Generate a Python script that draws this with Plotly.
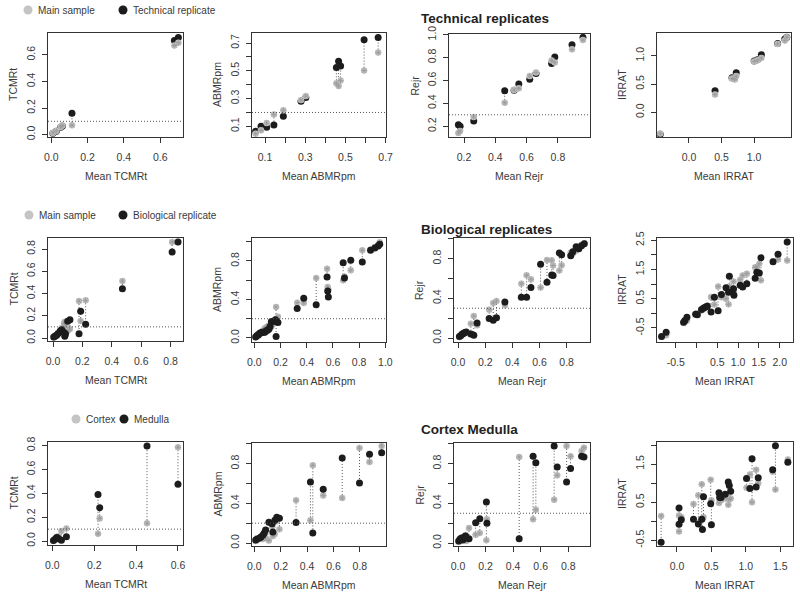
import plotly.graph_objects as go

W, H = 800, 596

# ---------------- DATA ----------------
# Row 1: Technical replicates (grey = main sample, black = technical replicate)
tech_tcmr_mean = [0.009, 0.028, 0.052, 0.061, 0.114, 0.678, 0.700]
tech_tcmr_main = [0.013, 0.028, 0.058, 0.068, 0.070, 0.670, 0.690]
tech_tcmr_rep = [0.010, 0.025, 0.055, 0.064, 0.161, 0.708, 0.731]

tech_abmr_mean = [0.053, 0.080, 0.108, 0.144, 0.191, 0.279, 0.303, 0.455, 0.466, 0.476, 0.593, 0.663]
tech_abmr_main = [0.047, 0.071, 0.124, 0.185, 0.216, 0.289, 0.318, 0.410, 0.390, 0.430, 0.502, 0.632]
tech_abmr_rep = [0.064, 0.100, 0.093, 0.110, 0.173, 0.280, 0.308, 0.525, 0.570, 0.535, 0.724, 0.741]

tech_rej_mean = [0.164, 0.175, 0.262, 0.46, 0.52, 0.55, 0.62, 0.66, 0.76, 0.78, 0.89, 0.96]
tech_rej_main = [0.141, 0.159, 0.280, 0.405, 0.517, 0.531, 0.640, 0.670, 0.775, 0.757, 0.872, 0.954]
tech_rej_rep = [0.212, 0.200, 0.245, 0.511, 0.515, 0.569, 0.610, 0.660, 0.748, 0.804, 0.913, 0.977]

tech_irr_mean = [-0.44, 0.40, 0.66, 0.70, 0.725, 1.00, 1.05, 1.11, 1.36, 1.47, 1.50]
tech_irr_main = [-0.38, 0.315, 0.60, 0.58, 0.64, 0.90, 0.92, 0.96, 1.21, 1.27, 1.33]
tech_irr_rep = [-0.39, 0.38, 0.61, 0.60, 0.70, 0.91, 0.93, 1.02, 1.22, 1.30, 1.33]

# Row 2: Biological replicates (grey = main sample, black = biological replicate)
bio_tcmr_mean = [0.005, 0.015, 0.025, 0.035, 0.05, 0.06, 0.075, 0.08, 0.085, 0.10, 0.115, 0.177, 0.188, 0.222, 0.472, 0.81, 0.85]
bio_tcmr_main = [0.005, 0.012, 0.03, 0.045, 0.06, 0.09, 0.13, 0.145, 0.11, 0.065, 0.08, 0.333, 0.153, 0.339, 0.512, 0.863, 0.863]
bio_tcmr_rep = [0.008, 0.018, 0.025, 0.04, 0.065, 0.075, 0.05, 0.015, 0.035, 0.15, 0.165, 0.039, 0.24, 0.123, 0.443, 0.773, 0.863]

bio_abmr_mean = [0.01, 0.02, 0.03, 0.04, 0.05, 0.06, 0.07, 0.08, 0.09, 0.10, 0.11, 0.12, 0.13, 0.15, 0.16, 0.166, 0.17, 0.18,
                 0.327, 0.377, 0.472, 0.555, 0.56, 0.565, 0.678, 0.688, 0.736, 0.824, 0.887, 0.92, 0.945, 0.957]
bio_abmr_main = [0.015, 0.02, 0.04, 0.035, 0.06, 0.07, 0.08, 0.10, 0.11, 0.12, 0.13, 0.10, 0.12, 0.15, 0.17, 0.322, 0.20, 0.22,
                 0.367, 0.364, 0.623, 0.72, 0.53, 0.50, 0.60, 0.64, 0.703, 0.911, 0.92, 0.945, 0.965, 0.994]
bio_abmr_rep = [0.01, 0.025, 0.03, 0.05, 0.055, 0.06, 0.06, 0.06, 0.075, 0.08, 0.09, 0.12, 0.17, 0.17, 0.19, 0.014, 0.17, 0.16,
                0.305, 0.412, 0.346, 0.634, 0.488, 0.426, 0.783, 0.623, 0.807, 0.79, 0.911, 0.935, 0.956, 0.973]

bio_rej_mean = [0.01, 0.02, 0.03, 0.04, 0.05, 0.06, 0.094, 0.116, 0.14, 0.229, 0.259, 0.283, 0.345, 0.466, 0.505, 0.537,
                0.608, 0.655, 0.69, 0.70, 0.746, 0.763, 0.83, 0.845, 0.87, 0.89, 0.91, 0.93]
bio_rej_main = [0.01, 0.02, 0.03, 0.05, 0.055, 0.06, 0.145, 0.222, 0.128, 0.286, 0.353, 0.373, 0.33, 0.548, 0.632, 0.592,
                0.508, 0.787, 0.783, 0.73, 0.68, 0.733, 0.86, 0.85, 0.88, 0.92, 0.94, 0.955]
bio_rej_rep = [0.015, 0.025, 0.04, 0.045, 0.055, 0.06, 0.04, 0.027, 0.151, 0.198, 0.178, 0.205, 0.363, 0.41, 0.41, 0.508,
               0.743, 0.561, 0.635, 0.63, 0.857, 0.84, 0.83, 0.87, 0.92, 0.90, 0.93, 0.95]

bio_irr_mean = [-0.84, -0.73, -0.31, -0.28, -0.23, -0.02, 0.02, 0.12, 0.17, 0.22, 0.26, 0.35, 0.43, 0.52, 0.60,
                0.71, 0.77, 0.79, 0.89, 0.90, 1.05, 1.11, 1.21, 1.41, 1.45, 1.51, 1.55, 1.84, 1.96, 2.18]
bio_irr_main = [-0.80, -0.75, -0.33, -0.28, -0.25, -0.01, 0.0, 0.10, 0.15, 0.20, 0.27, 0.56, 0.30, 0.92, 0.55,
                0.50, 0.31, 0.92, 1.09, 0.70, 1.15, 1.30, 1.36, 1.58, 1.58, 1.70, 1.13, 1.78, 1.84, 1.81]
bio_irr_rep = [-0.79, -0.65, -0.30, -0.24, -0.13, -0.03, -0.05, 0.13, 0.18, 0.22, 0.24, 0.05, 0.55, 0.09, 0.65,
               0.88, 0.72, 1.27, 0.84, 0.62, 0.96, 0.90, 1.01, 1.20, 1.41, 1.38, 1.90, 1.77, 2.02, 2.44]

# Row 3: Cortex (grey) vs Medulla (black)
cm_tcmr_mean = [0.005, 0.012, 0.02, 0.025, 0.03, 0.043, 0.067, 0.218, 0.226, 0.452, 0.60]
cm_tcmr_cortex = [0.003, 0.01, 0.02, 0.035, 0.04, 0.084, 0.106, 0.061, 0.19, 0.15, 0.786]
cm_tcmr_medulla = [0.005, 0.015, 0.03, 0.025, 0.02, 0.006, 0.036, 0.39, 0.28, 0.797, 0.477]

cm_abmr_mean = [0.01, 0.02, 0.04, 0.05, 0.065, 0.075, 0.085, 0.11, 0.135, 0.14, 0.155, 0.17, 0.19,
                0.316, 0.425, 0.443, 0.522, 0.666, 0.797, 0.873, 0.965]
cm_abmr_cortex = [0.02, 0.03, 0.04, 0.06, 0.04, 0.09, 0.05, 0.025, 0.17, 0.07, 0.09, 0.22, 0.14,
                  0.43, 0.229, 0.783, 0.48, 0.454, 0.958, 0.817, 0.978]
cm_abmr_medulla = [0.03, 0.04, 0.05, 0.06, 0.08, 0.10, 0.13, 0.21, 0.195, 0.11, 0.23, 0.26, 0.25,
                   0.208, 0.615, 0.10, 0.541, 0.857, 0.605, 0.894, 0.91]

cm_rej_mean = [0.005, 0.015, 0.025, 0.035, 0.045, 0.055, 0.06, 0.08, 0.128, 0.158, 0.206, 0.21,
               0.444, 0.545, 0.565, 0.698, 0.72, 0.788, 0.817, 0.897, 0.914]
cm_rej_cortex = [0.01, 0.02, 0.03, 0.045, 0.05, 0.08, 0.02, 0.151, 0.084, 0.10, 0.027, 0.239,
                 0.867, 0.239, 0.336, 0.437, 0.682, 0.978, 0.874, 0.928, 0.961]
cm_rej_medulla = [0.02, 0.04, 0.05, 0.03, 0.06, 0.07, 0.05, 0.044, 0.205, 0.245, 0.413, 0.20,
                  0.044, 0.874, 0.81, 0.978, 0.766, 0.615, 0.75, 0.874, 0.867]

cm_irr_mean = [-0.23, 0.03, 0.03, 0.063, 0.24, 0.31, 0.36, 0.37, 0.385, 0.49, 0.50, 0.61, 0.62, 0.64,
               0.70, 0.745, 0.76, 0.78, 1.01, 1.06, 1.09, 1.15, 1.18, 1.39, 1.43, 1.61]
cm_irr_cortex = [0.14, 0.15, -0.27, 0.11, 0.45, 0.68, 0.97, 0.05, 0.11, 1.09, 0.55, 0.48, 0.70, 0.55,
                 0.60, 0.43, 0.57, 0.60, 0.88, 1.23, 0.50, 1.35, 1.00, 1.30, 0.83, 1.62]
cm_irr_medulla = [-0.55, 0.35, -0.08, 0.04, 0.05, -0.07, 0.05, -0.22, 0.64, 0.46, -0.09, 0.75, 0.62, 0.62,
                  0.71, 1.03, 0.94, 0.79, 1.12, 0.86, 1.64, 0.90, 1.14, 1.35, 1.98, 1.55]

thresholds = {"TCMRt": 0.1, "ABMRpm": 0.2, "Rejr": 0.3, "IRRAT": None}
row_titles = ["Technical replicates", "Biological replicates", "Cortex Medulla"]
legend_labels = [("Main sample", "Technical replicate"),
                 ("Main sample", "Biological replicate"),
                 ("Cortex", "Medulla")]

# ---------------- LAYOUT CONFIG ----------------
def ticks(vals, labeled):
    return vals, [(f"{v:.1f}" if v in labeled else "") for v in vals]

def px(x):
    return x / W

def py(y):
    return 1 - y / H

t01 = [0.0, 0.2, 0.4, 0.6, 0.8]
panels = [
    # row 1
    dict(box=(48, 183, 33, 137), var="TCMRt", mean=tech_tcmr_mean, a=tech_tcmr_main, b=tech_tcmr_rep,
         xr=[-0.018, 0.7255], yr=[-0.018, 0.764], xt=ticks([0, 0.2, 0.4, 0.6], [0, 0.2, 0.4, 0.6]),
         yt=ticks([0, 0.2, 0.4, 0.6], [0, 0.2, 0.4, 0.6]), greytop=True),
    dict(box=(252, 386, 33, 137), var="ABMRpm", mean=tech_abmr_mean, a=tech_abmr_main, b=tech_abmr_rep,
         xr=[0.035, 0.702], yr=[0.023, 0.773], xt=ticks([0.1, 0.2, 0.3, 0.4, 0.5, 0.6, 0.7], [0.1, 0.3, 0.5, 0.7]),
         yt=ticks([0.1, 0.2, 0.3, 0.4, 0.5, 0.6, 0.7], [0.1, 0.3, 0.5, 0.7]), greytop=True),
    dict(box=(449, 590, 34, 137), var="Rejr", mean=tech_rej_mean, a=tech_rej_main, b=tech_rej_rep,
         xr=[0.104, 1.005], yr=[0.106, 1.006], xt=ticks([0.2, 0.4, 0.6, 0.8], [0.2, 0.4, 0.6, 0.8]),
         yt=ticks([0.2, 0.4, 0.6, 0.8, 1.0], [0.2, 0.4, 0.6, 0.8, 1.0]), greytop=True),
    dict(box=(657, 791, 33, 137), var="IRRAT", mean=tech_irr_mean, a=tech_irr_main, b=tech_irr_rep,
         xr=[-0.49, 1.565], yr=[-0.44, 1.405], xt=ticks([0.0, 0.5, 1.0], [0.0, 0.5, 1.0]),
         yt=ticks([0.0, 0.5, 1.0], [0.0, 0.5, 1.0]), greytop=True),
    # row 2
    dict(box=(48, 183, 238, 341), var="TCMRt", mean=bio_tcmr_mean, a=bio_tcmr_main, b=bio_tcmr_rep,
         xr=[-0.034, 0.884], yr=[-0.027, 0.899], xt=ticks(t01, t01), yt=ticks(t01, t01), greytop=False),
    dict(box=(252, 386, 238, 342), var="ABMRpm", mean=bio_abmr_mean, a=bio_abmr_main, b=bio_abmr_rep,
         xr=[-0.018, 1.005], yr=[-0.042, 1.039], xt=ticks(t01 + [1.0], t01 + [1.0]),
         yt=ticks(t01 + [1.0], [0.0, 0.4, 0.8]), greytop=False),
    dict(box=(454, 590, 238, 342), var="Rejr", mean=bio_rej_mean, a=bio_rej_main, b=bio_rej_rep,
         xr=[-0.03, 0.972], yr=[-0.04, 1.008], xt=ticks(t01, t01),
         yt=ticks(t01 + [1.0], [0.0, 0.4, 0.8]), greytop=False),
    dict(box=(657, 793, 238, 342), var="IRRAT", mean=bio_irr_mean, a=bio_irr_main, b=bio_irr_rep,
         xr=[-0.95, 2.32], yr=[-0.98, 2.58], xt=ticks([-0.5, 0.0, 0.5, 1.0, 1.5, 2.0], [-0.5, 0.5, 1.0, 1.5, 2.0]),
         yt=ticks([-0.5, 0.0, 0.5, 1.0, 1.5, 2.0, 2.5], [-0.5, 0.5, 1.5, 2.5]), greytop=False),
    # row 3
    dict(box=(48, 183, 442, 545), var="TCMRt", mean=cm_tcmr_mean, a=cm_tcmr_cortex, b=cm_tcmr_medulla,
         xr=[-0.021, 0.624], yr=[-0.033, 0.83], xt=ticks([0, 0.2, 0.4, 0.6], [0, 0.2, 0.4, 0.6]),
         yt=ticks(t01, t01), greytop=False),
    dict(box=(252, 386, 443, 546), var="ABMRpm", mean=cm_abmr_mean, a=cm_abmr_cortex, b=cm_abmr_medulla,
         xr=[-0.018, 0.998], yr=[-0.03, 1.008], xt=ticks(t01, t01),
         yt=ticks(t01 + [1.0], [0.0, 0.4, 0.8]), greytop=False),
    dict(box=(454, 590, 443, 546), var="Rejr", mean=cm_rej_mean, a=cm_rej_cortex, b=cm_rej_medulla,
         xr=[-0.029, 0.958], yr=[-0.03, 1.008], xt=ticks(t01, t01),
         yt=ticks(t01 + [1.0], [0.0, 0.4, 0.8]), greytop=False),
    dict(box=(657, 793, 442, 546), var="IRRAT", mean=cm_irr_mean, a=cm_irr_cortex, b=cm_irr_medulla,
         xr=[-0.29, 1.685], yr=[-0.65, 2.08], xt=ticks([0.0, 0.5, 1.0, 1.5], [0.0, 0.5, 1.0, 1.5]),
         yt=ticks([-0.5, 0.0, 0.5, 1.0, 1.5, 2.0], [-0.5, 0.5, 1.5]), greytop=False),
]

FONT = "Liberation Sans, Arial, Helvetica, sans-serif"
TXT = "#3a3a3a"
GREY = "#c4c4c4"
BLACK = "#1c1c1c"
FS = 10.5

fig = go.Figure()
layout = dict(template="none", width=W, height=H, margin=dict(l=0, r=0, t=0, b=0, pad=0, autoexpand=False),
              autosize=False, paper_bgcolor="white", plot_bgcolor="white", showlegend=False,
              hovermode=False, font=dict(family=FONT, size=FS, color=TXT))
annotations = []
shapes = []

for i, p in enumerate(panels, start=1):
    s = "" if i == 1 else str(i)
    xa, ya = "x" + s, "y" + s
    x0, x1, y0, y1 = p["box"]
    # connectors
    cx, cy = [], []
    for m, a, b in zip(p["mean"], p["a"], p["b"]):
        cx += [m, m, None]
        cy += [a, b, None]
    fig.add_trace(go.Scatter(x=cx, y=cy, mode="lines", xaxis=xa, yaxis=ya, hoverinfo="skip",
                             line=dict(color="#555555", width=1, dash="1px,2px")))
    grey_traces = [
        go.Scatter(x=p["mean"], y=p["a"], mode="markers", xaxis=xa, yaxis=ya,
                   marker=dict(color=GREY, size=6.5, line=dict(width=0))),
        go.Scatter(x=p["mean"], y=p["a"], mode="markers", xaxis=xa, yaxis=ya,
                   marker=dict(symbol="asterisk-open", color="#9a9a9a", size=5, line=dict(width=0.8, color="#9a9a9a"))),
    ]
    black_trace = go.Scatter(x=p["mean"], y=p["b"], mode="markers", xaxis=xa, yaxis=ya,
                             marker=dict(color=BLACK, size=7, line=dict(width=0)))
    if p["greytop"]:
        fig.add_trace(black_trace)
        for t in grey_traces:
            fig.add_trace(t)
    else:
        for t in grey_traces:
            fig.add_trace(t)
        fig.add_trace(black_trace)

    axcommon = dict(showline=True, mirror=True, linecolor="#333333", linewidth=1, ticks="outside",
                    ticklen=5, tickwidth=1, tickcolor="#333333", showgrid=False, zeroline=False,
                    automargin=False, tickfont=dict(family=FONT, size=FS, color=TXT), fixedrange=True)
    layout["xaxis" + s] = dict(axcommon, domain=[px(x0), px(x1)], range=p["xr"], anchor=ya,
                               tickmode="array", tickvals=p["xt"][0], ticktext=p["xt"][1], ticklabelstandoff=5)
    layout["yaxis" + s] = dict(axcommon, domain=[py(y1), py(y0)], range=p["yr"], anchor=xa,
                               tickmode="array", tickvals=p["yt"][0], ticktext=p["yt"][1], tickangle=-90,
                               ticklabelstandoff=3)
    thr = thresholds[p["var"]]
    if thr is not None:
        shapes.append(dict(type="line", xref=xa + " domain", yref=ya, x0=0, x1=1, y0=thr, y1=thr,
                           line=dict(color="#555555", width=1, dash="1px,2px")))
    # axis titles
    annotations.append(dict(text="Mean " + p["var"], xref="paper", yref="paper", x=px((x0 + x1) / 2),
                            y=py(y1 + 39), showarrow=False, xanchor="center", yanchor="middle",
                            font=dict(size=FS, color=TXT)))
    annotations.append(dict(text=p["var"], xref="paper", yref="paper", x=px(x0 - 35),
                            y=py((y0 + y1) / 2), showarrow=False, xanchor="center", yanchor="middle",
                            textangle=-90, font=dict(size=FS, color=TXT)))

# row titles and legends
title_y = [18, 229, 429]
leg = [(28, 123, 10), (29, 123, 215), (76, 124, 419)]
for r in range(3):
    annotations.append(dict(text="<b>" + row_titles[r] + "</b>", xref="paper", yref="paper", x=px(419),
                            y=py(title_y[r]), showarrow=False, xanchor="left", yanchor="middle",
                            font=dict(size=13.5, color="#222222")))
    gx, bx, ly = leg[r]
    rad = 4.5
    for cxp, col in ((gx, GREY), (bx, BLACK)):
        shapes.append(dict(type="circle", xref="paper", yref="paper", x0=px(cxp - rad), x1=px(cxp + rad),
                           y0=py(ly + rad), y1=py(ly - rad), fillcolor=col, line=dict(width=0)))
    annotations.append(dict(text=legend_labels[r][0], xref="paper", yref="paper", x=px(gx + 8), y=py(ly),
                            showarrow=False, xanchor="left", yanchor="middle", font=dict(size=10, color=TXT)))
    annotations.append(dict(text=legend_labels[r][1], xref="paper", yref="paper", x=px(bx + 8), y=py(ly),
                            showarrow=False, xanchor="left", yanchor="middle", font=dict(size=10, color=TXT)))

layout["annotations"] = annotations
layout["shapes"] = shapes
fig.update_layout(**layout)
fig.write_html("out.html", config={"displayModeBar": False, "staticPlot": True},
               post_script="document.body.style.margin='0px';document.body.style.overflow='hidden';")
